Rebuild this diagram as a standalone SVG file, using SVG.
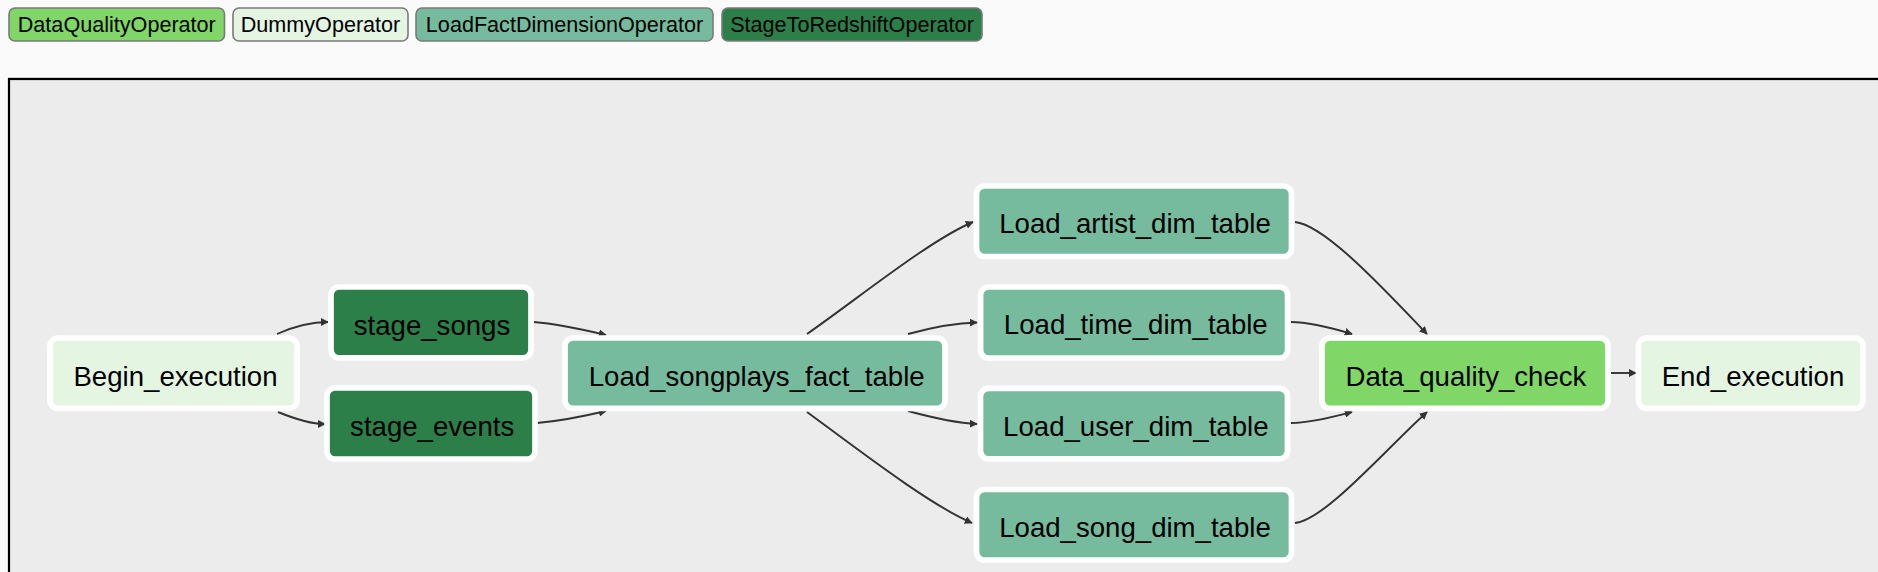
<svg xmlns="http://www.w3.org/2000/svg" width="1878" height="572" viewBox="0 0 1878 572">
<defs>
<style>
.legend rect{stroke:#7a7a7a;stroke-width:1.6}
.legend text{font-family:"Liberation Sans",Arial,sans-serif;font-size:21.6px;fill:#000;text-anchor:middle}
.node rect{stroke:#fff;stroke-width:5.7}
.node text{font-family:"Liberation Sans",Arial,sans-serif;font-size:27.6px;fill:#000;text-anchor:middle}
.dq{fill:#80d666}
.dummy{fill:#e4f5e1}
.lfd{fill:#77bb9e}
.s2r{fill:#2d7f4a}
#edges path{fill:none;stroke:#333;stroke-width:1.9;marker-end:url(#arrow)}
</style>
<marker id="arrow" viewBox="0 0 10 10" refX="9" refY="5" markerWidth="8" markerHeight="8" markerUnits="userSpaceOnUse" orient="auto">
<path d="M0,0 L10,5 L0,10 z" fill="#333"/>
</marker>
</defs>
<rect x="0" y="0" width="1878" height="572" fill="#fafafa"/>
<g id="legend" class="legend">
<rect class="dq" x="9" y="8" width="215.5" height="33" rx="6"/>
<text x="116.8" y="31.7">DataQualityOperator</text>
<rect class="dummy" x="233" y="8" width="175" height="33" rx="6"/>
<text x="320.5" y="31.7">DummyOperator</text>
<rect class="lfd" x="416" y="8" width="297" height="33" rx="6"/>
<text x="564.5" y="31.7">LoadFactDimensionOperator</text>
<rect class="s2r" x="722" y="8" width="260" height="33" rx="6"/>
<text x="852" y="31.7">StageToRedshiftOperator</text>
</g>
<line x1="8" y1="77.5" x2="1878" y2="77.5" stroke="#e4e4e4" stroke-width="1"/>
<rect x="9" y="79" width="1900" height="520" fill="#ececec" stroke="#000" stroke-width="2.2"/>
<g id="edges">
<path d="M277 334 C295 326,310 322,328 322"/>
<path d="M278 412 C295 419,310 424,325 424"/>
<path d="M534 322 C560 324,585 330,606 335"/>
<path d="M537 423 C560 421,585 416,606 411"/>
<path d="M807 334 C860 297,930 240,973 222"/>
<path d="M908 334 C930 328,955 323,977 322.5"/>
<path d="M908 411 C930 417,955 423,977 424"/>
<path d="M807 412 C860 451,930 505,972 523"/>
<path d="M1295 222 C1325 225,1385 290,1427 334"/>
<path d="M1291 322 C1310 322,1332 328,1352 334"/>
<path d="M1291 423 C1310 423,1332 417,1352 412"/>
<path d="M1295 523 C1325 520,1385 450,1427 412"/>
<path d="M1611 373 L1636 373"/>
</g>
<g id="Begin_execution" class="node"><rect class="dummy" x="50" y="338" width="247" height="70.3" rx="8"/><text x="175.5" y="386">Begin_execution</text></g>
<g id="stage_songs" class="node"><rect class="s2r" x="331" y="287" width="200" height="70.8" rx="8"/><text x="432" y="335">stage_songs</text></g>
<g id="stage_events" class="node"><rect class="s2r" x="327" y="388" width="208" height="71" rx="8"/><text x="432.2" y="435.7">stage_events</text></g>
<g id="Load_songplays_fact_table" class="node"><rect class="lfd" x="565" y="338" width="380" height="70.3" rx="8"/><text x="756.7" y="386">Load_songplays_fact_table</text></g>
<g id="Load_artist_dim_table" class="node"><rect class="lfd" x="976.5" y="186" width="315" height="70.5" rx="8"/><text x="1135" y="233.3">Load_artist_dim_table</text></g>
<g id="Load_time_dim_table" class="node"><rect class="lfd" x="980.6" y="287" width="307" height="71" rx="8"/><text x="1135.8" y="334.3">Load_time_dim_table</text></g>
<g id="Load_user_dim_table" class="node"><rect class="lfd" x="980.5" y="388.3" width="307" height="70.5" rx="8"/><text x="1135.8" y="435.7">Load_user_dim_table</text></g>
<g id="Load_song_dim_table" class="node"><rect class="lfd" x="976.5" y="489.5" width="315" height="70.5" rx="8"/><text x="1135" y="536.7">Load_song_dim_table</text></g>
<g id="Data_quality_check" class="node"><rect class="dq" x="1322" y="338" width="286" height="70.3" rx="8"/><text x="1466" y="385.5">Data_quality_check</text></g>
<g id="End_execution" class="node"><rect class="dummy" x="1638.5" y="338" width="224.5" height="70.3" rx="8"/><text x="1753" y="385.5">End_execution</text></g>
</svg>
